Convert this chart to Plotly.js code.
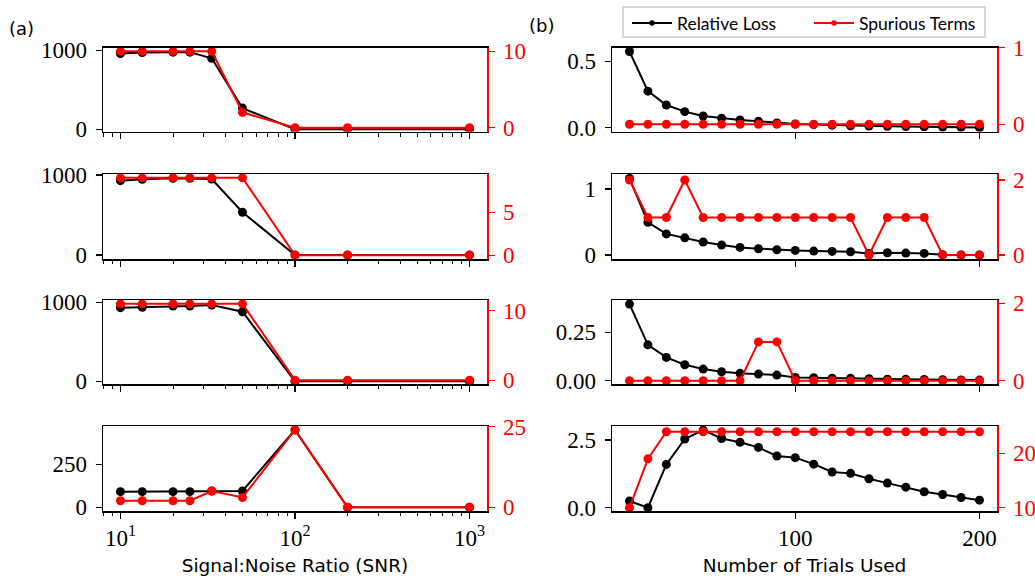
<!DOCTYPE html>
<html>
<head>
<meta charset="utf-8">
<script src="https://cdn.plot.ly/plotly-3.0.1.min.js"></script>
<style>html,body{margin:0;padding:0;background:#fff;}#chart{width:1035px;height:579px;}</style>
</head>
<body>
<div id="chart"></div>
<script>
// ---- data ----
const snr = [10, 13.33, 20, 25, 33.33, 50, 100, 200, 1000];
const snrLoss1 = [958, 970, 975, 975, 898, 267, 0, 0, 0];
const snrSpur1 = [10, 10, 10, 10, 10, 2, 0, 0, 0];
const snrLoss2 = [929, 946, 959, 959, 950, 534, 0, 0, 0];
const snrSpur2 = [9, 9, 9, 9, 9, 9, 0, 0, 0];
const snrLoss3 = [932, 937, 953, 953, 966, 881, 0, 0, 0];
const snrSpur3 = [11, 11, 11, 11, 11, 11, 0, 0, 0];
const snrLoss4 = [91, 91, 91, 91, 95, 95, 450, 0, 0];
const snrSpur4 = [2, 2, 2, 2, 5, 3, 24, 0, 0];

const trials = [10, 20, 30, 40, 50, 60, 70, 80, 90, 100, 110, 120, 130, 140, 150, 160, 170, 180, 190, 200];
const trialLoss1 = [0.575, 0.275, 0.17, 0.12, 0.087, 0.07, 0.057, 0.047, 0.035, 0.027, 0.022, 0.018, 0.013, 0.011, 0.009, 0.007, 0.005, 0.003, 0.002, 0.0];
const trialSpur1 = [0, 0, 0, 0, 0, 0, 0, 0, 0, 0, 0, 0, 0, 0, 0, 0, 0, 0, 0, 0];
const trialLoss2 = [1.16, 0.495, 0.32, 0.26, 0.197, 0.152, 0.116, 0.096, 0.08, 0.07, 0.06, 0.055, 0.05, 0.025, 0.035, 0.03, 0.025, 0.005, 0.0, 0.0];
const trialSpur2 = [2, 1, 1, 2, 1, 1, 1, 1, 1, 1, 1, 1, 1, 0, 1, 1, 1, 0, 0, 0];
const trialLoss3 = [0.395, 0.185, 0.12, 0.082, 0.06, 0.046, 0.038, 0.034, 0.029, 0.017, 0.015, 0.013, 0.012, 0.01, 0.008, 0.007, 0.006, 0.005, 0.004, 0.003];
const trialSpur3 = [0, 0, 0, 0, 0, 0, 0, 1, 1, 0, 0, 0, 0, 0, 0, 0, 0, 0, 0, 0];
const trialLoss4 = [0.25, 0.0, 1.6, 2.54, 2.87, 2.56, 2.42, 2.23, 1.91, 1.85, 1.61, 1.32, 1.27, 1.07, 0.91, 0.76, 0.59, 0.49, 0.38, 0.28];
const trialSpur4 = [10, 19, 24, 24, 24, 24, 24, 24, 24, 24, 24, 24, 24, 24, 24, 24, 24, 24, 24, 24];

const seriesNames = ['Relative Loss', 'Spurious Terms'];
const snrTickVals = [10, 100, 1000];
const snrTickText = ['10<sup>1</sup>', '10<sup>2</sup>', '10<sup>3</sup>'];
const trialTickVals = [100, 200];
const trialTickText = ['100', '200'];

// left/right y tick labels per panel
const lossTicks = [
  {v: [0, 1000], t: ['0', '1000']},
  {v: [0, 0.5], t: ['0.0', '0.5']},
  {v: [0, 1000], t: ['0', '1000']},
  {v: [0, 1], t: ['0', '1']},
  {v: [0, 1000], t: ['0', '1000']},
  {v: [0, 0.25], t: ['0.00', '0.25']},
  {v: [0, 250], t: ['0', '250']},
  {v: [0, 2.5], t: ['0.0', '2.5']}
];
const spurTicks = [
  {v: [0, 10], t: ['0', '10']},
  {v: [0, 1], t: ['0', '1']},
  {v: [0, 5], t: ['0', '5']},
  {v: [0, 2], t: ['0', '2']},
  {v: [0, 10], t: ['0', '10']},
  {v: [0, 2], t: ['0', '2']},
  {v: [0, 25], t: ['0', '25']},
  {v: [10, 20], t: ['10', '20']}
];

// ---- layout geometry (styling only) ----
const W = 1035, H = 579;
const colDom = [[103 / W, 487 / W], [612 / W, 997 / W]];
const rowPx = [[47.5, 131.5], [174, 259], [300, 384], [426, 511]];
const lossRange = [[-29, 1034], [-0.03, 0.605], [-50, 1012], [-0.06, 1.227], [-34, 1029], [-0.017, 0.416], [-21.5, 473], [-0.12, 3.02]];
const spurRange = [[-0.5, 10.5], [-0.094, 1.003], [-0.45, 9.45], [-0.107, 2.16], [-0.55, 11.55], [-0.085, 2.08], [-1.2, 25.2], [9.39, 25.05]];

const lossData = [snrLoss1, trialLoss1, snrLoss2, trialLoss2, snrLoss3, trialLoss3, snrLoss4, trialLoss4];
const spurData = [snrSpur1, trialSpur1, snrSpur2, trialSpur2, snrSpur3, trialSpur3, snrSpur4, trialSpur4];

const tickFont = {family: 'Liberation Serif, DejaVu Serif, serif', size: 23, color: '#000'};
const sansFont = 'DejaVu Sans, Noto Sans, sans-serif';
const legendFont = {family: 'Lato, Open Sans, sans-serif', size: 17.5, color: '#000'};

const traces = [];
const legendCommon = {
  orientation: 'h', yanchor: 'top', xanchor: 'left', y: 1 - 5 / H,
  borderwidth: 0, bgcolor: 'rgba(255,255,255,0)', font: legendFont, tracegroupgap: 0, itemwidth: 40
};
const layout = {
  width: W, height: H,
  margin: {l: 0, r: 0, t: 0, b: 0, autoexpand: false},
  paper_bgcolor: '#fff', plot_bgcolor: '#fff',
  showlegend: true,
  legend: Object.assign({}, legendCommon, {x: 627 / W}),
  legend2: Object.assign({}, legendCommon, {x: 809 / W}),
  shapes: [
    {type: 'rect', xref: 'paper', yref: 'paper', x0: 623 / W, x1: 985 / W, y0: 1 - 37 / H, y1: 1 - 7 / H,
      line: {color: '#cccccc', width: 1.5}, fillcolor: '#ffffff', layer: 'above'}
  ],
  annotations: [
    {text: '(a)', xref: 'paper', yref: 'paper', x: 7 / W, y: 1 - 28 / H, xanchor: 'left', yanchor: 'middle', showarrow: false, font: {family: sansFont, size: 18, color: '#000'}},
    {text: '(b)', xref: 'paper', yref: 'paper', x: 527 / W, y: 1 - 25 / H, xanchor: 'left', yanchor: 'middle', showarrow: false, font: {family: sansFont, size: 18, color: '#000'}}
  ]
};

const minorLog = [];
[1, 10, 100].forEach(d => { for (let m = 2; m <= 9; m++) minorLog.push(m * d); });

for (let k = 0; k < 8; k++) {
  const r = Math.floor(k / 2), c = k % 2;
  const xs = c === 0 ? snr : trials;
  const xn = 'x' + (k + 1), yA = 'y' + (2 * k + 1), yB = 'y' + (2 * k + 2);
  traces.push({x: xs, y: lossData[k], xaxis: xn, yaxis: yA, mode: 'lines+markers', name: seriesNames[0],
    showlegend: false,
    line: {color: '#000', width: 2}, marker: {color: '#000', size: 9}});
  traces.push({x: xs, y: spurData[k], xaxis: xn, yaxis: yB, mode: 'lines+markers', name: seriesNames[1],
    showlegend: false,
    line: {color: '#ff0000', width: 2}, marker: {color: '#ff0000', size: 9}});

  const bottom = (r === 3);
  const xa = {
    domain: colDom[c], anchor: yA,
    showline: true, linecolor: '#000', linewidth: 1.5, mirror: true,
    showgrid: false, zeroline: false,
    ticks: 'outside', ticklen: 6, tickwidth: 1.2, tickcolor: '#000',
    tickmode: 'array', showticklabels: bottom,
    tickfont: tickFont
  };
  if (c === 0) {
    xa.type = 'log';
    xa.range = [0.9, 3.1];
    xa.tickvals = snrTickVals;
    xa.ticktext = snrTickText;
    xa.minor = {tickmode: 'array', tickvals: minorLog, ticks: 'outside', ticklen: 3.5, tickwidth: 1, tickcolor: '#000', showgrid: false};
  } else {
    xa.range = [0.5, 209.5];
    xa.tickvals = trialTickVals;
    xa.ticktext = trialTickText;
  }
  if (bottom) {
    xa.title = {text: c === 0 ? 'Signal:Noise Ratio (SNR)' : 'Number of Trials Used',
      font: {family: sansFont, size: 18.5, color: '#000'}, standoff: 9};
  }
  layout['xaxis' + (k + 1)] = xa;

  const y0 = 1 - rowPx[r][1] / H, y1 = 1 - rowPx[r][0] / H;
  layout['yaxis' + (2 * k + 1)] = {
    domain: [y0, y1], anchor: xn, range: lossRange[k],
    showline: true, linecolor: '#000', linewidth: 1.5, mirror: false,
    showgrid: false, zeroline: false,
    ticks: 'outside', ticklen: 6, tickwidth: 1.2, tickcolor: '#000',
    tickmode: 'array', tickvals: lossTicks[k].v, ticktext: lossTicks[k].t,
    tickfont: tickFont, ticklabelstandoff: 4
  };
  layout['yaxis' + (2 * k + 2)] = {
    overlaying: yA, side: 'right', anchor: xn, range: spurRange[k],
    showline: true, linecolor: '#ff0000', linewidth: 1.5,
    showgrid: false, zeroline: false,
    ticks: 'outside', ticklen: 6, tickwidth: 1.2, tickcolor: '#ff0000',
    tickmode: 'array', tickvals: spurTicks[k].v, ticktext: spurTicks[k].t,
    tickfont: {family: tickFont.family, size: 23, color: '#ff0000'}, ticklabelstandoff: 4
  };
}

// legend entries (one null point each, so nothing is plotted; smaller legend markers as in the reference)
traces.push({x: [null], y: [null], xaxis: 'x2', yaxis: 'y3', mode: 'lines+markers', name: seriesNames[0], showlegend: true,
  legend: 'legend', line: {color: '#000', width: 2}, marker: {color: '#000', size: 5.5}});
traces.push({x: [null], y: [null], xaxis: 'x2', yaxis: 'y4', mode: 'lines+markers', name: seriesNames[1], showlegend: true,
  legend: 'legend2', line: {color: '#ff0000', width: 2}, marker: {color: '#ff0000', size: 5.5}});

Plotly.newPlot('chart', traces, layout, {displayModeBar: false, staticPlot: true});
</script>
</body>
</html>
